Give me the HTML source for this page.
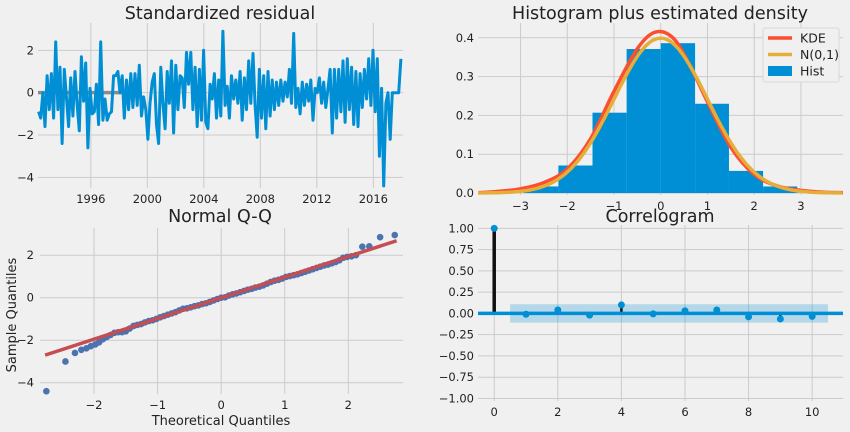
<!DOCTYPE html>
<html><head><meta charset="utf-8">
<style>
html,body{margin:0;padding:0;background:#f0f0f0;}
svg{display:block;font-family:"DejaVu Sans","Liberation Sans",sans-serif;}
</style></head>
<body>
<svg id="fig" width="850" height="432" viewBox="0 0 850 432" xmlns="http://www.w3.org/2000/svg">
<rect width="850" height="432" fill="#f0f0f0"/>
</svg>
<script>
// ---------- Data ----------
const residTicksX = [1996, 2000, 2004, 2008, 2012, 2016];
const residTicksY = [-4, -2, 0, 2];
const residStart = 1992.3, residEnd = 2017.95;
const residValues = [-0.9,-1.2,0,-1.6,0.8,-0.8,0.9,-1.2,2.4,-0.8,1.2,-2.4,1.1,-0.2,-1.6,0.7,-1.1,1.0,-0.6,-1.8,1.7,-0.4,1.4,-2.6,0.2,-1.0,-0.9,0.4,-1.5,
 2.4,-1.3,-0.3,-1.3,-1.0,-0.9,0.8,0.8,1.0,0.0,0.8,-1.2,0.6,-0.8,0.9,-0.7,0.9,-0.6,1.3,-1.1,-0.2,-0.8,-2.2,-0.5,0.5,
 0.9,-1.5,-2.4,1.2,-0.5,-1.7,1.0,-0.5,1.5,-1.9,1.3,-0.8,0.8,0.7,-0.7,1.9,0.4,1.9,-0.8,1.2,-1.6,1.1,-1.3,2.0,-1.4,
 -1.7,0.4,-0.3,0.9,-1.2,0.6,-1.1,2.9,-0.6,0.3,-1.2,0.8,-0.3,0.6,-0.5,1.0,-1.3,0.7,-0.8,1.5,-0.5,1.85,-0.6,-2.1,1.1,
 -1.2,0.8,-1.7,1.0,-1.1,0.6,-0.8,0.5,-0.6,0.6,-0.4,0.5,-0.2,1.1,-0.5,2.8,-0.7,0.2,-1.0,0.5,-0.6,0.4,-0.4,0.6,-1.3,0.2,
 0.0,0.7,-0.5,0.5,-0.7,0.2,1.1,-1.9,1.1,-1.2,1.1,-0.9,1.5,-1.4,1.6,-0.8,1.2,-1.5,1.0,-1.6,0.9,-0.7,1.1,-0.3,1.6,-0.6,2.0,
 -0.9,1.6,-3.0,0.2,-4.4,-0.5,0.0,-2.2,0,0,0,0,1.6];

const histEdges = [-2.93,-2.19,-1.46,-0.73,0,0.735,1.46,2.19,2.92];
const histHeights = [0.017,0.071,0.207,0.371,0.386,0.230,0.057,0.017];
const kdeX = [-3.9,-3.5,-3,-2.5,-2,-1.5,-1,-0.5,-0.1,0.3,0.7,1,1.5,2,2.5,3,3.5,3.9];
const kdeY = [0.001,0.004,0.011,0.027,0.062,0.14,0.262,0.372,0.415,0.395,0.31,0.235,0.118,0.048,0.018,0.007,0.002,0.001];
const histTicksX = [-3,-2,-1,0,1,2,3];
const histTicksY = [0,0.1,0.2,0.3,0.4];

const qqTheo = [-2.75,-2.45,-2.3,-2.2,-2.12,-2.05,-1.98,-1.92,-1.86,-1.8,-1.74,-1.68,-1.62,-1.56,-1.5,-1.44,-1.38,-1.32,-1.26,-1.2,-1.14,-1.08,-1.02,-0.96,-0.9,-0.84,-0.78,-0.72,-0.66,-0.6,-0.54,-0.48,-0.42,-0.36,-0.3,-0.24,-0.18,-0.12,-0.06,0,0.06,0.12,0.18,0.24,0.3,0.36,0.42,0.48,0.54,0.6,0.66,0.72,0.78,0.84,0.9,0.96,1.02,1.08,1.14,1.2,1.26,1.32,1.38,1.44,1.5,1.56,1.62,1.68,1.74,1.8,1.86,1.92,1.98,2.05,2.12,2.22,2.33,2.5,2.73];
const qqSample = [-4.4,-3.0,-2.6,-2.45,-2.38,-2.28,-2.2,-2.1,-1.95,-1.85,-1.75,-1.65,-1.62,-1.62,-1.58,-1.45,-1.33,-1.28,-1.24,-1.16,-1.1,-1.06,-1.0,-0.92,-0.86,-0.8,-0.74,-0.68,-0.6,-0.52,-0.5,-0.45,-0.4,-0.36,-0.3,-0.26,-0.2,-0.13,-0.06,0.0,0.02,0.1,0.16,0.2,0.26,0.32,0.38,0.42,0.48,0.52,0.58,0.66,0.74,0.8,0.84,0.9,0.98,1.02,1.06,1.1,1.16,1.22,1.28,1.34,1.4,1.46,1.52,1.56,1.62,1.68,1.76,1.88,1.92,1.95,2.0,2.4,2.42,2.85,2.95];
const qqLine = [[-2.77,-2.7],[2.76,2.68]];
const qqTicksX = [-2,-1,0,1,2];
const qqTicksY = [-4,-2,0,2];

const acfLags = [0,1,2,3,4,5,6,7,8,9,10];
const acfValues = [1.0,-0.01,0.04,-0.02,0.1,-0.005,0.03,0.04,-0.04,-0.065,-0.035];
const acfConf = 0.108;
const acfTicksX = [0,2,4,6,8,10];
const acfTicksY = [-1,-0.75,-0.5,-0.25,0,0.25,0.5,0.75,1];

// ---------- Helpers ----------
const NS = "http://www.w3.org/2000/svg";
const svg = document.getElementById('fig');
function mk(tag, attrs, parent, text){
  const e = document.createElementNS(NS, tag);
  for (const k in attrs) e.setAttribute(k, attrs[k]);
  if (text !== undefined) e.textContent = text;
  (parent || svg).appendChild(e);
  return e;
}
function scale(d0,d1,r0,r1){ return v => r0 + (v-d0)/(d1-d0)*(r1-r0); }
const GRID = "#cbcbcb", TXT = "#222";
function fmtMinus(s){ return String(s).replace('-', '\u2212'); }

function axesFrame(g, L, T, R, B, sx, sy, tx, ty, fx, fy, yLabelX){
  tx.forEach(t => {
    const l = mk('line',{x1:sx(t),x2:sx(t),y1:T,y2:B,stroke:GRID,'stroke-width':1},g);
    
    
    const lb = mk('text',{x:sx(t),y:B+15,'text-anchor':'middle','font-size':11.5,fill:TXT},g,fmtMinus(fx(t)));
    
    
  });
  ty.forEach(t => {
    const l = mk('line',{x1:L,x2:R,y1:sy(t),y2:sy(t),stroke:GRID,'stroke-width':1},g);
    
    
    const lb = mk('text',{x:yLabelX,y:sy(t)+4,'text-anchor':'end','font-size':11.5,fill:TXT},g,fmtMinus(fy(t)));
    
    
  });
}
function title(g, x, y, s){
  const t = mk('text',{x:x,y:y,'text-anchor':'middle','font-size':17.5,fill:TXT},g,s);
  
  
}

// ---------- Panel 1: standardized residual ----------
(function(){
  const g = mk('g',{});  
  const L=38,R=403,T=23,B=188;
  const sx = scale(1992.26, 2018.1, L, R), sy = scale(-4.5, 3.29, B, T);
  axesFrame(g,L,T,R,B,sx,sy,residTicksX,residTicksY,v=>v,v=>v,34);
  title(g, 220, 19, 'Standardized residual');
  const z = mk('line',{x1:L,x2:sx(1999.5),y1:sy(0),y2:sy(0),stroke:'#8b8b8b','stroke-width':3.5},g);
   
  const n = residValues.length;
  const pts = residValues.map((v,i)=>{
    const yr = residStart + i*(residEnd-residStart)/(n-1);
    return sx(yr).toFixed(1)+','+sy(v).toFixed(1);
  }).join(' ');
  const p = mk('polyline',{points:pts,fill:'none',stroke:'#008fd5','stroke-width':3,'stroke-linejoin':'round'},g);
   
})();

// ---------- Panel 2: histogram ----------
(function(){
  const g = mk('g',{});  
  const L=478,R=843,T=23,B=195;
  const sx = scale(-3.91, 3.9, L, R), sy = scale(-0.005, 0.438, B, T);
  axesFrame(g,L,T,R,B,sx,sy,histTicksX,histTicksY,v=>v,v=>v.toFixed(1),474);
  title(g, 660, 19, 'Histogram plus estimated density');
  histHeights.forEach((h,i)=>{
    const x0=sx(histEdges[i]), x1=sx(histEdges[i+1]);
    const r = mk('rect',{x:x0,y:sy(h),width:x1-x0,height:sy(0)-sy(h),fill:'#008fd5'},g);
     
  });
  // KDE (smooth via Catmull-Rom)
  const kp = kdeX.map((x,i)=>[sx(x),sy(kdeY[i])]);
  let d = 'M'+kp[0][0]+','+kp[0][1];
  for(let i=0;i<kp.length-1;i++){
    const p0=kp[Math.max(0,i-1)],p1=kp[i],p2=kp[i+1],p3=kp[Math.min(kp.length-1,i+2)];
    d += ' C'+(p1[0]+(p2[0]-p0[0])/6)+','+(p1[1]+(p2[1]-p0[1])/6)+' '+(p2[0]-(p3[0]-p1[0])/6)+','+(p2[1]-(p3[1]-p1[1])/6)+' '+p2[0]+','+p2[1];
  }
  const k = mk('path',{d:d,fill:'none',stroke:'#fc4f30','stroke-width':3.5},g);
   
  const np=[];
  for(let x=-3.91;x<=3.9;x+=0.05){ np.push(sx(x).toFixed(1)+','+sy(Math.exp(-x*x/2)/Math.sqrt(2*Math.PI)).toFixed(1)); }
  const nl = mk('polyline',{points:np.join(' '),fill:'none',stroke:'#e5ae38','stroke-width':3.5},g);
   
  // legend
  const lg = mk('g',{},g);  
  mk('rect',{x:763,y:28,width:76,height:54,fill:'#f0f0f0',stroke:'#d8d8d8','stroke-width':1,rx:2},lg);
  const items=[['KDE','#fc4f30','line'],['N(0,1)','#e5ae38','line'],['Hist','#008fd5','rect']];
  items.forEach((it,i)=>{
    const y=38+i*16.5;
    const e = mk('g',{},lg);  
    if(it[2]==='line') mk('line',{x1:768,x2:792,y1:y,y2:y,stroke:it[1],'stroke-width':3.5},e);
    else mk('rect',{x:768,y:y-5,width:24,height:10,fill:it[1]},e);
    mk('text',{x:800,y:y+4.5,'font-size':12.5,fill:TXT},e,it[0]);
  });
})();

// ---------- Panel 3: Normal Q-Q ----------
(function(){
  const g = mk('g',{});  
  const L=40,R=403,T=228,B=394;
  const sx = scale(-2.85, 2.86, L, R), sy = scale(-4.53, 3.28, B, T);
  axesFrame(g,L,T,R,B,sx,sy,qqTicksX,qqTicksY,v=>v,v=>v,34);
  title(g, 220, 222, 'Normal Q-Q');
  qqTheo.forEach((t,i)=>{
    const c = mk('circle',{cx:sx(t),cy:sy(qqSample[i]),r:3.3,fill:'#4c72b0'},g);
     
  });
  const ln = mk('line',{x1:sx(qqLine[0][0]),y1:sy(qqLine[0][1]),x2:sx(qqLine[1][0]),y2:sy(qqLine[1][1]),stroke:'#c44e52','stroke-width':3.5},g);
   
  const xl = mk('text',{x:221,y:425,'text-anchor':'middle','font-size':13,fill:TXT},g,'Theoretical Quantiles');
   
  const yl = mk('text',{x:0,y:0,'text-anchor':'middle','font-size':13,fill:TXT,transform:'translate(16,315) rotate(-90)'},g,'Sample Quantiles');
   
})();

// ---------- Panel 4: Correlogram ----------
(function(){
  const g = mk('g',{});  
  const L=478,R=843,T=225,B=401;
  const sx = scale(-0.51, 10.97, L, R), sy = scale(-1.03, 1.04, B, T);
  axesFrame(g,L,T,R,B,sx,sy,acfTicksX,acfTicksY,v=>v,v=>v.toFixed(2),474);
  title(g, 660, 222, 'Correlogram');
  const band = mk('rect',{x:sx(0.5),y:sy(acfConf),width:sx(10.5)-sx(0.5),height:sy(-acfConf)-sy(acfConf),fill:'#008fd5','fill-opacity':0.25},g);
   
  acfLags.forEach((lag,i)=>{
    const s = mk('line',{x1:sx(lag),x2:sx(lag),y1:sy(0),y2:sy(acfValues[i]),stroke:'#111','stroke-width':lag===0?3.5:2.5},g);
     
  });
  const zl = mk('line',{x1:L,x2:R,y1:sy(0),y2:sy(0),stroke:'#008fd5','stroke-width':3.5},g);
   
  acfLags.forEach((lag,i)=>{
    const c = mk('circle',{cx:sx(lag),cy:sy(acfValues[i]),r:3.5,fill:'#008fd5'},g);
     
  });
})();
</script>
</body></html>
